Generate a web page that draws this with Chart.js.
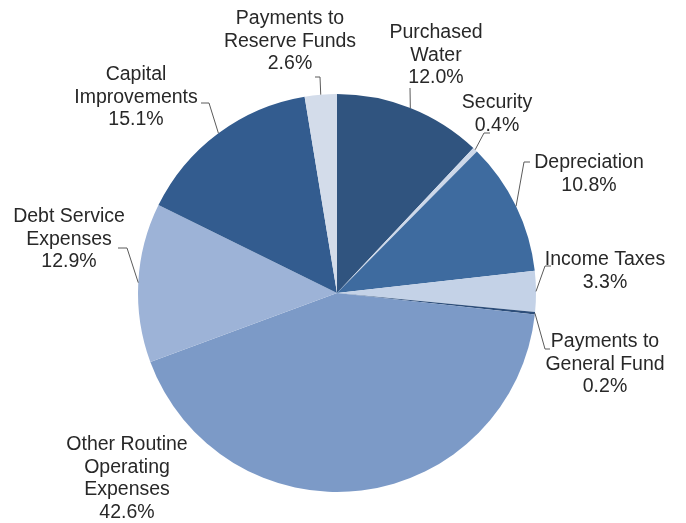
<!DOCTYPE html>
<html>
<head>
<meta charset="utf-8">
<script src="https://cdn.jsdelivr.net/npm/chart.js"></script>
<style>
  html, body { margin: 0; padding: 0; background: #fff; }
  #wrap { width: 686px; height: 523px; position: relative; }
</style>
</head>
<body>
<div id="wrap"><canvas id="pie"></canvas></div>
<script>
const categories = [
    ['Purchased', 'Water'],
    ['Security'],
    ['Depreciation'],
    ['Income Taxes'],
    ['Payments to', 'General Fund'],
    ['Other Routine', 'Operating', 'Expenses'],
    ['Debt Service', 'Expenses'],
    ['Capital', 'Improvements'],
    ['Payments to', 'Reserve Funds']
];
const shares = [12.0, 0.4, 10.8, 3.3, 0.2, 42.6, 12.9, 15.1, 2.6];
const sliceColors = ['#30547f', '#cdd8e9', '#3e6b9f', '#c4d2e7', '#2d4e7a', '#7c9ac7', '#9db3d7', '#335c8f', '#d3dcea'];

// where each label sits (centre of first text line) and the leader bend / end
const labelLayout = [
    { x: 436, y: 33, leader: [[410, 88]] },
    { x: 497, y: 103, leader: [[484, 133], [490, 133]] },
    { x: 589, y: 163, leader: [[524, 162], [530, 162]] },
    { x: 605, y: 260, leader: [[545, 266], [551, 266]] },
    { x: 605, y: 342, leader: [[545, 349], [550, 349]] },
    { x: 127, y: 445, leader: null },
    { x: 69, y: 217, leader: [[127, 248], [118, 248]] },
    { x: 136, y: 75, leader: [[209, 103], [201, 103]] },
    { x: 290, y: 19, leader: [[320, 77], [315, 77]] }
];

const lineGap = 22.5;

const pieLabels = {
    id: 'pieLabels',
    afterDraw(chart) {
        const ctx = chart.ctx;
        const arcs = chart.getDatasetMeta(0).data;
        ctx.save();
        ctx.font = '19.5px "Liberation Sans", Arial, sans-serif';
        ctx.fillStyle = '#282828';
        ctx.textAlign = 'center';
        ctx.textBaseline = 'middle';
        arcs.forEach((arc, i) => {
            const lay = labelLayout[i];
            const lines = categories[i].concat([shares[i].toFixed(1) + '%']);
            lines.forEach((t, k) => ctx.fillText(t, lay.x, lay.y + k * lineGap));
            if (lay.leader) {
                const mid = (arc.startAngle + arc.endAngle) / 2;
                const sx = arc.x + Math.cos(mid) * arc.outerRadius;
                const sy = arc.y + Math.sin(mid) * arc.outerRadius;
                ctx.beginPath();
                ctx.strokeStyle = '#5a5a5a';
                ctx.lineWidth = 1;
                ctx.moveTo(sx, sy);
                lay.leader.forEach(p => ctx.lineTo(p[0], p[1]));
                ctx.stroke();
            }
        });
        ctx.restore();
    }
};

new Chart(document.getElementById('pie'), {
    type: 'pie',
    data: {
        labels: categories.map(c => c.join(' ')),
        datasets: [{
            data: shares,
            backgroundColor: sliceColors,
            borderWidth: 0
        }]
    },
    options: {
        responsive: true,
        maintainAspectRatio: false,
        animation: false,
        layout: { padding: { top: 94, bottom: 31, left: 138, right: 150 } },
        plugins: {
            legend: { display: false },
            tooltip: { enabled: false }
        }
    },
    plugins: [pieLabels]
});
</script>
</body>
</html>
